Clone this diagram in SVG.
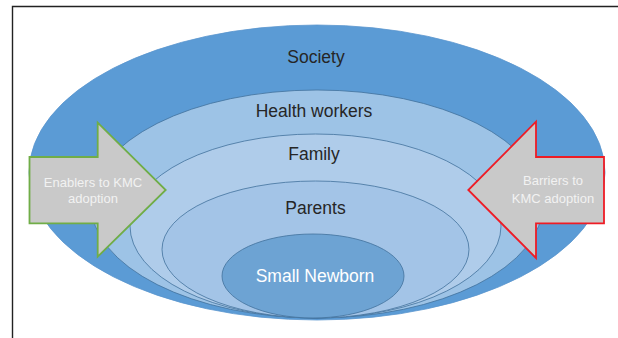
<svg xmlns="http://www.w3.org/2000/svg" width="618" height="338" viewBox="0 0 618 338">
  <style>
    .ring { stroke: #41719C; stroke-width: 0.8; }
    .lbl { font-family: "Liberation Sans", Arial, sans-serif; font-size: 17.5px; fill: #262626; text-anchor: middle; }
    .wlbl { font-family: "Liberation Sans", Arial, sans-serif; font-size: 17.5px; fill: #FFFFFF; text-anchor: middle; }
    .alb { font-family: "Liberation Sans", Arial, sans-serif; font-size: 13px; fill: #F2F2F2; text-anchor: middle; }
    .arrow { fill: #C9C9C9; stroke-width: 1.8; stroke-linejoin: miter; }
  </style>
  <rect width="618" height="338" fill="#FFFFFF"/>
  <g id="frame" stroke="#222222" stroke-width="1.4" fill="none">
    <polyline points="12.5,338 12.5,6.5 618,6.5"/>
  </g>
  <g id="society">
    <ellipse cx="317" cy="172.5" rx="288" ry="147.5" fill="#5B9BD5" stroke="#5A96CE" stroke-width="0.8"/>
    <text class="lbl" x="316" y="62.5">Society</text>
  </g>
  <g id="health-workers">
    <ellipse class="ring" cx="317" cy="204" rx="226" ry="114" fill="#9DC3E6"/>
    <text class="lbl" x="314" y="116.5">Health workers</text>
  </g>
  <g id="family">
    <ellipse class="ring" cx="315.5" cy="226" rx="185.5" ry="92" fill="#AFCCEA"/>
    <text class="lbl" x="314" y="160">Family</text>
  </g>
  <g id="parents">
    <ellipse class="ring" cx="315.5" cy="249.5" rx="153.5" ry="68.5" fill="#A3C4E7"/>
    <text class="lbl" x="315.5" y="214">Parents</text>
  </g>
  <g id="small-newborn">
    <ellipse class="ring" cx="313" cy="276" rx="91" ry="42" fill="#6DA3D3"/>
    <text class="wlbl" x="315" y="281.5">Small Newborn</text>
  </g>
  <g id="connectors">
    <g id="enablers">
      <polygon class="arrow" stroke="#70AD47" points="29.5,157 97.7,157 97.7,122.7 165.7,190 97.7,256.7 97.7,223.3 29.5,223.3"/>
      <text class="alb" x="93" y="186.7">Enablers to KMC</text>
      <text class="alb" x="93" y="203.3">adoption</text>
    </g>
    <g id="barriers">
      <polygon class="arrow" stroke="#EE1C25" points="604,157 536,157 536,121.7 468.3,190 536,258 536,223.3 604,223.3"/>
      <text class="alb" x="553" y="185">Barriers to</text>
      <text class="alb" x="553" y="202.7">KMC adoption</text>
    </g>
  </g>
</svg>
